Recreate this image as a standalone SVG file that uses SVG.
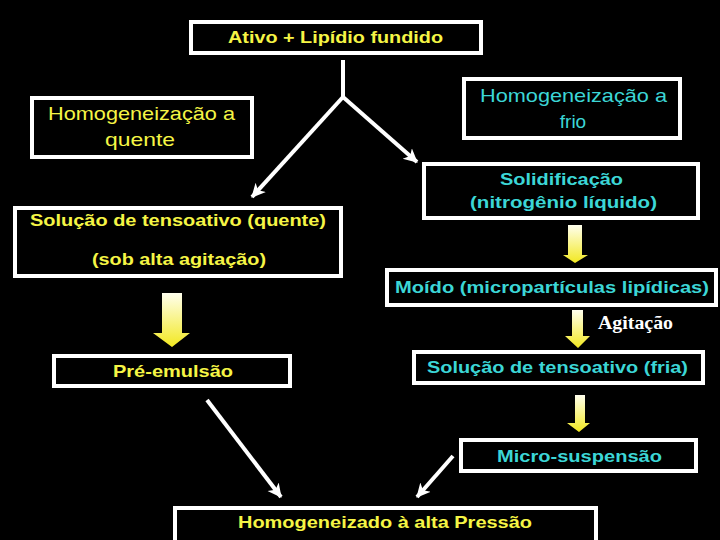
<svg xmlns="http://www.w3.org/2000/svg" width="720" height="540" viewBox="0 0 720 540">
<defs>
<style>
.box{fill:#000;stroke:#fff;stroke-width:4}
.y{fill:#f5f545}
.c{fill:#3cd6d6}
.b{font-family:"Liberation Sans",Arial,sans-serif;font-weight:bold;font-size:17px}
.r{font-family:"Liberation Sans",Arial,sans-serif;font-size:19px}
.con{stroke:#fff;stroke-width:4;fill:none;marker-end:url(#ah)}
.blk{fill:url(#yg)}
</style>
<linearGradient id="yg" x1="0" y1="0" x2="0" y2="1">
<stop offset="0" stop-color="#ffffee"/>
<stop offset="1" stop-color="#f2e820"/>
</linearGradient>
<marker id="ah" markerUnits="userSpaceOnUse" markerWidth="16" markerHeight="16" refX="13" refY="8" orient="auto">
<path d="M0,1 L14,8 L0,15 L4,8 Z" fill="#fff"/>
</marker>
</defs>
<rect width="720" height="540" fill="#000"/>

<g id="connectors">
<line x1="343" y1="60" x2="343" y2="97" stroke="#fff" stroke-width="4"/>
<line class="con" x1="343" y1="97" x2="252" y2="197"/>
<line class="con" x1="343" y1="97" x2="417" y2="162"/>
<line class="con" x1="207" y1="400" x2="281" y2="497"/>
<line class="con" x1="453" y1="456" x2="417" y2="497"/>
<path class="blk" d="M162,293 H182 V333 H190 L172,347 L153,333 H162 Z"/>
<path class="blk" d="M568,225 H582 V255 H588 L575,263 L563,255 H568 Z"/>
<path class="blk" d="M572,310 H583 V336 H590 L578,348 L565,336 H572 Z"/>
<path class="blk" d="M575,395 H585 V423 H590 L579,432 L567,423 H575 Z"/>
</g>

<g id="n1">
<rect class="box" x="191" y="22" width="290" height="31"/>
<text class="b y" x="335.5" y="43" text-anchor="middle" textLength="215" lengthAdjust="spacingAndGlyphs">Ativo + Lipídio fundido</text>
</g>
<g id="n2">
<rect class="box" x="32" y="98" width="220" height="59"/>
<text class="r y" x="141.5" y="120" text-anchor="middle" textLength="187" lengthAdjust="spacingAndGlyphs">Homogeneização a</text>
<text class="r y" x="140" y="146" text-anchor="middle" textLength="70" lengthAdjust="spacingAndGlyphs">quente</text>
</g>
<g id="n3">
<rect class="box" x="464" y="79" width="216" height="59"/>
<text class="r c" x="573.5" y="102" text-anchor="middle" textLength="187" lengthAdjust="spacingAndGlyphs">Homogeneização a</text>
<text class="r c" x="573" y="128" text-anchor="middle">frio</text>
</g>
<g id="n4">
<rect class="box" x="424" y="164" width="274" height="54"/>
<text class="b c" x="561.5" y="185" text-anchor="middle" textLength="123" lengthAdjust="spacingAndGlyphs">Solidificação</text>
<text class="b c" x="563.5" y="208" text-anchor="middle" textLength="187" lengthAdjust="spacingAndGlyphs">(nitrogênio líquido)</text>
</g>
<g id="n5">
<rect class="box" x="15" y="208" width="326" height="68"/>
<text class="b y" x="30" y="226" textLength="296" lengthAdjust="spacingAndGlyphs">Solução de tensoativo (quente)</text>
<text class="b y" x="92" y="265" textLength="174" lengthAdjust="spacingAndGlyphs">(sob alta agitação)</text>
</g>
<g id="n6">
<rect class="box" x="387" y="270" width="329" height="35"/>
<text class="b c" x="552" y="293" text-anchor="middle" textLength="314" lengthAdjust="spacingAndGlyphs">Moído (micropartículas lipídicas)</text>
</g>
<g id="lbl">
<text x="598" y="329" fill="#fff" font-family="'Liberation Serif','Times New Roman',serif" font-weight="bold" font-size="18" textLength="75" lengthAdjust="spacingAndGlyphs">Agitação</text>
</g>
<g id="n7">
<rect class="box" x="54" y="356" width="236" height="30"/>
<text class="b y" x="173" y="377" text-anchor="middle" textLength="120" lengthAdjust="spacingAndGlyphs">Pré-emulsão</text>
</g>
<g id="n8">
<rect class="box" x="414" y="352" width="289" height="31"/>
<text class="b c" x="557.5" y="373" text-anchor="middle" textLength="261" lengthAdjust="spacingAndGlyphs">Solução de tensoativo (fria)</text>
</g>
<g id="n9">
<rect class="box" x="461" y="440" width="235" height="31"/>
<text class="b c" x="579.5" y="462" text-anchor="middle" textLength="165" lengthAdjust="spacingAndGlyphs">Micro-suspensão</text>
</g>
<g id="n10">
<rect class="box" x="175" y="508" width="421" height="40"/>
<text class="b y" x="385" y="528" text-anchor="middle" textLength="294" lengthAdjust="spacingAndGlyphs">Homogeneizado à alta Pressão</text>
</g>
</svg>
